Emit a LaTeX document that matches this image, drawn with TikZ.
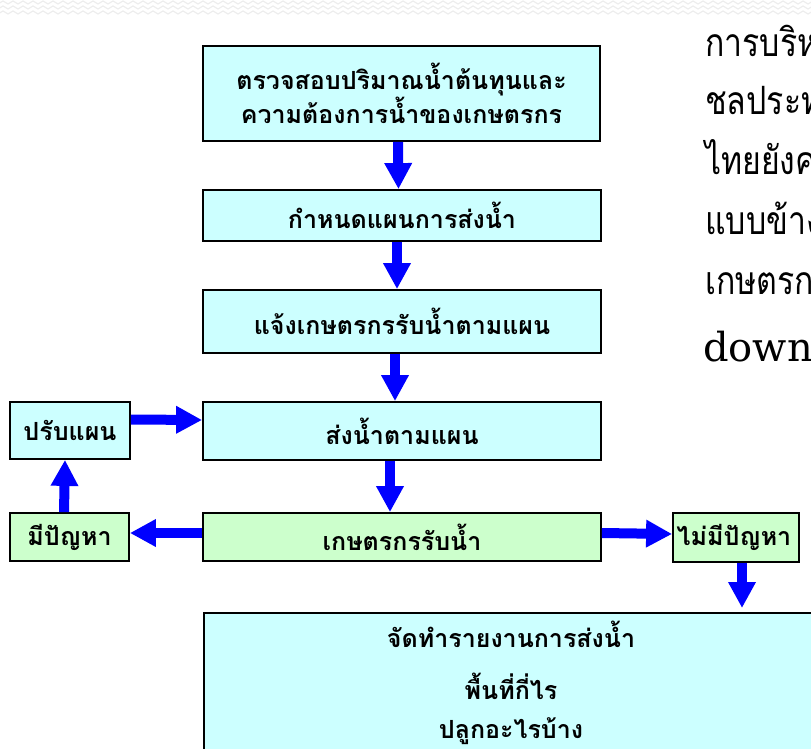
\documentclass[tikz,border=0pt]{standalone}
\usepackage{fontspec}
\setmainfont{DejaVu Serif}
\newfontfamily\thai[Script=Thai]{Loma}
\newfontfamily\thaibody[Script=Thai,FakeStretch=0.82]{Loma}
\usetikzlibrary{arrows.meta,shadows}

\definecolor{boxcyan}{HTML}{CCFFFF}
\definecolor{boxgreen}{HTML}{CCFFCC}
\definecolor{flowblue}{HTML}{0000FF}

\tikzset{
  box/.style={rectangle, draw=black, line width=1.8pt, inner sep=0pt,
    align=center, font=\thai\bfseries\fontsize{25}{30}\selectfont,
    drop shadow={shadow xshift=1.2pt, shadow yshift=-1.2pt, fill=black!45, opacity=1}},
  cyanbox/.style={box, fill=boxcyan},
  greenbox/.style={box, fill=boxgreen},
  boxtext/.style={anchor=base, inner sep=0pt, font=\thai\bfseries\fontsize{25}{30}\selectfont},
  flow/.style={draw=flowblue, line width=10pt,
    -{Triangle[width=26pt,length=26pt]}},
  bodyline/.style={anchor=base west, inner sep=0pt,
    font=\thaibody\fontsize{39}{39}\selectfont},
  band/.style={draw=black!7, line width=1.2pt}
}

\begin{document}
\begin{tikzpicture}[x=1pt,y=-1pt]
\useasboundingbox (0,0) rectangle (811,749);
\begin{scope}
\clip (0,0) rectangle (811,749);

% patterned strip along the top edge
\foreach \r in {4,9,14}
  \draw[band] (-2,\r) foreach \i in {0,...,82} { -- ++(5,-3) -- ++(5,3) };

% main column of steps
\node[cyanbox, minimum width=397pt, minimum height=95pt] (b1) at (401.5,93.5)
  {ตรวจสอบปริมาณน้ำต้นทุนและ\\ความต้องการน้ำของเกษตรกร};
\node[cyanbox, minimum width=398pt, minimum height=51pt] (b2) at (402,215.5)
  {กำหนดแผนการส่งน้ำ};
\node[cyanbox, minimum width=398pt, minimum height=63pt] (b3) at (402,321.5)
  {แจ้งเกษตรกรรับน้ำตามแผน};
\node[cyanbox, minimum width=398pt, minimum height=58pt] (b4) at (402,431)
  {ส่งน้ำตามแผน};
\node[greenbox, minimum width=398pt, minimum height=48pt] (b5) at (402,537)
  {เกษตรกรรับน้ำ};

% side branches
\node[cyanbox, minimum width=120pt, minimum height=57pt] (p1) at (70,430.5)
  {ปรับแผน};
\node[greenbox, minimum width=119pt, minimum height=48pt] (p2) at (69.5,537)
  {มีปัญหา};
\node[greenbox, minimum width=126pt, minimum height=49pt] (p3) at (736,537.5)
  {\hspace*{-4pt}ไม่มีปัญหา};

% report box and its three lines
\node[cyanbox, minimum width=616pt, minimum height=158pt, anchor=north west]
  (b6) at (203,612) {};
\node[boxtext] (r1) at (511,647) {จัดทำรายงานการส่งน้ำ};
\node[boxtext] (r2) at (511,699) {พื้นที่กี่ไร};
\node[boxtext] (r3) at (511,738) {ปลูกอะไรบ้าง};

% connectors
\draw[flow] ([xshift=-3.5pt]b1.south) -- ([xshift=-3.5pt]b2.north);
\draw[flow] ([xshift=-5pt]b2.south) -- ([xshift=-5pt]b3.north);
\draw[flow] ([xshift=-7pt]b3.south) -- ([xshift=-7pt]b4.north);
\draw[flow] ([xshift=-12pt]b4.south) -- ([xshift=-12pt]b5.north);
\draw[flow] ([yshift=11pt]p1.east) -- ([yshift=11pt]b4.west);
\draw[flow] ([yshift=4pt]b5.west) -- ([yshift=4pt]p2.east);
\draw[flow] ([yshift=4pt]b5.east) -- ([yshift=3.5pt]p3.west);
\draw[flow] ([xshift=-5.5pt]p2.north) -- ([xshift=-5pt]p1.south);
\draw[flow, shorten >=4pt] ([xshift=6pt]p3.south) -- ([xshift=6pt]p3.south |- b6.north);

% text column on the right
\node[bodyline] (t1) at (705,57) {การบริหาร};
\node[bodyline] (t2) at (705,115) {ชลประทาน};
\node[bodyline] (t3) at (705,174) {ไทยยังคง};
\node[bodyline] (t4) at (705,234) {แบบข้างบน};
\node[bodyline] (t5) at (705,294) {เกษตรกร};
\node[anchor=base west, inner sep=0pt, font=\fontsize{40}{40}\selectfont] (t6)
  at (703,361) {downstream};
\end{scope}
\end{tikzpicture}
\end{document}
